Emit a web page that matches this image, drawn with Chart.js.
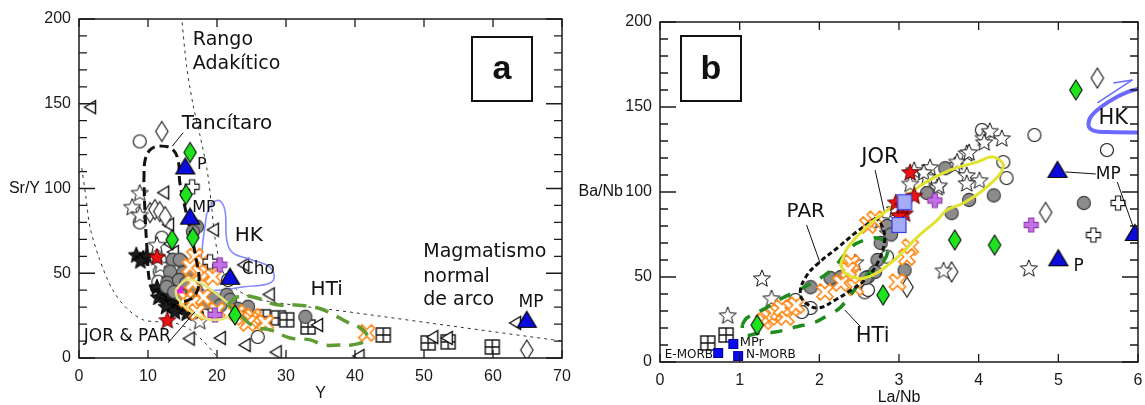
<!DOCTYPE html>
<html>
<head>
<meta charset="utf-8">
<script src="https://cdn.jsdelivr.net/npm/chart.js@4.4.1/dist/chart.umd.min.js"></script>
<style>
  html, body { margin: 0; padding: 0; background: #fff; }
  #wrap { position: relative; width: 1145px; height: 405px; overflow: hidden; background: #fff; }
  canvas { position: absolute; top: 0; }
  #cA { left: 0; }
  #cB { left: 572px; }
</style>
</head>
<body>
<div id="wrap">
  <canvas id="cA" width="572" height="405"></canvas>
  <canvas id="cB" width="573" height="405"></canvas>
</div>
<script>
// ---------- Panel a: Sr/Y vs Y ----------
const xTicksA = [0, 10, 20, 30, 40, 50, 60, 70];
const yTicksA = [0, 50, 100, 150, 200];
const yMarks = [0, 10, 20, 30, 40, 50, 60, 70, 80, 90, 100, 110, 120, 130, 140, 150, 160, 170, 180, 190, 200];

const openCircleA = [[8.8,127.8],[8.8,80],[12,71],[11.7,58],[11.7,51],[11.5,45],[13.8,42],[15.8,34],[21.6,46],[19.5,30],[25.9,12.4]];
const openDiamondA = [[12,133.7],[10.3,85.8],[11,87.6],[11.7,86.4],[12.5,83.4],[64.9,4.7]];
const openTriA = [[1.6,148],[12.2,97.6],[12.9,78.7],[13.6,62.5],[12.8,68],[19.4,75.7],[23.8,55],[27.5,37.5],[34.5,19.5],[15.9,11.5],[20.4,11.8],[24,7.7],[28.5,3.4],[40.5,1.2],[51.2,12.4],[53.3,11.8],[63.2,20.7]];
const openStarA = [[8.8,97.6],[7.7,89.3],[8.8,84.6],[11.3,66.9],[11.8,55],[13.2,46],[17.5,22]];
const blackStarA = [[8.3,61],[9.3,59],[9.8,60.5],[8.9,57.5],[11.3,42],[12,39.5],[11.5,36],[12.8,34],[13.2,37.3],[13.6,32.5],[14.2,30],[14.9,29.6],[15.6,26.6],[16.5,28.4],[15,33],[17.4,29.5],[12.6,30.5],[13.9,27.5]];
const redStarA = [[11.3,59.8],[12.8,22.5]];
const greenDiamondA = [[16.1,121.3],[15.5,96.4],[13.5,69.8],[16.5,71],[22.6,25.4]];
const blueTriA = [[15.4,113],[16.1,83.4],[21.9,47.9],[64.9,22.5]];
const openPlusA = [[16.4,101],[19,56.8]];
const violetPlusA = [[20.4,55],[19.7,25.4]];
const magentaA = [[14.6,40.2]];
const grayCircleA = [[17.1,77.5],[16.5,74.6],[13.6,58],[14.9,56.8],[14.6,58],[13.2,50.9],[15.1,50.3],[16.5,52],[12.8,44.4],[14.5,46],[15.5,44],[12.7,42],[13.8,39],[15.2,36.5],[16.4,37.3],[17,40],[18.5,32.5],[19.5,35],[21.4,37.3],[21.9,34.3],[20.5,31],[23,29],[24.5,30.2],[32.8,24.3]];
const orangeXA = [[16.8,59.8],[18,56],[16.1,53.8],[17.5,50.3],[18.6,50.3],[19.4,47.9],[16.5,44.4],[18,36],[15.5,35],[16.4,32.5],[17.1,27.2],[20,28],[22.9,26.6],[23.8,24.3],[25.2,24.3],[24.8,22.5],[24.5,20.7],[27,20.7],[41.7,14.8]];
const gridSquareA = [[26.7,24.3],[28.9,23.7],[30.1,22.5],[33.2,18.3],[44.1,13.6],[50.6,8.9],[53.5,9.5],[59.9,6.5]];

// outlined fields and boundary lines (Y, Sr/Y)
const tancitaroA = [[9.4,105],[9.6,117],[10.5,123.5],[12,125],[13.6,123],[14.4,116],[14.6,104],[15.3,90],[16.3,72],[17,58],[17.4,46],[16.8,37],[15,33],[13,33.5],[11,37.5],[10.2,46],[9.9,62],[9.6,82],[9.4,105]];
const hkA = [[18.5,85],[19.5,92],[20.5,92.5],[21.2,86],[21.4,70],[22.3,62],[25,58],[27.5,54],[28.3,48],[27.5,44],[24,42],[20,40],[17.7,41],[17.6,52],[18,70],[18.5,85]];
const yellowA = [[14,40],[15.5,46],[17.5,44.5],[20.5,36],[22.2,28.5],[21.2,23.5],[18.5,23],[16,28],[14.3,35],[14,40]];
const htiA = [[21.6,31.4],[22.9,36],[25.2,36],[28.7,31.4],[31,31.4],[34.5,29.6],[36.4,26.6],[38.8,21.3],[41.2,16.6],[41.7,10.7],[39.5,7.7],[37.8,7.7],[35.4,7.7],[33.5,10.7],[30.6,11.8],[27.7,16.6],[25.5,18.3],[23.3,25.4],[21.6,31.4]];
const adakiteLineA = [[14.85,202],[15.6,172],[16.5,150],[17.5,132],[18.6,110],[19.2,90],[19.6,74],[20.2,60],[21.2,48],[23,40],[26,34.5],[40,26.7],[55,18.3],[70,10]];
const arcLineA = [[0.4,112],[1,95],[1.6,77],[3,58],[4.9,40],[7,29],[9.3,22.5],[11.7,21.3],[14,20.5],[16,17],[18,10],[20,1],[20.2,0]];
const leaderTancA = [[13.5,124.9],[15.1,133]];
const leaderJorParA = [[12.9,8.9],[16.8,27.2]];

// ---------- Panel b: Ba/Nb vs La/Nb ----------
const xTicksB = [0, 1, 2, 3, 4, 5, 6];
const yTicksB = [0, 50, 100, 150, 200];

const gridSquareB = [[0.6,11.2],[0.83,15.9]];
const blueSquareB = [[0.73,5.3],[0.92,10.6],[0.98,3.5]];
const openStarB = [[0.85,27.6],[1.28,49.4],[1.4,37.6],[2.45,58.8],[2.77,83.5],[2.86,76],[2.95,90],[3.19,113],[3.35,109],[3.48,103],[3.14,105],[3.39,114.7],[3.7,115.9],[3.85,123],[3.73,118],[3.85,110],[4.01,107],[3.85,105.3],[3.31,111.8],[3.5,104],[4.06,132],[4.14,136],[4.29,131.8],[4.07,129.4],[3.88,123.5],[3.56,54],[4.63,55.3]];
const redStarB = [[3.14,111.8],[3.19,98],[2.96,94],[3.07,87.6],[3.0,86.5],[3.05,92]];
const lavSquareB = [[3.07,94],[3.0,80.6]];
const violetPlusB = [[3.45,95],[4.66,80.6]];
const openPlusB = [[5.75,93.5],[5.44,74.7]];
const blueTriB = [[4.99,113],[5.0,61],[5.96,75.9]];
const greenDiamondB = [[1.22,21.8],[2.8,39.4],[3.7,71.8],[4.2,68.8],[5.22,160]];
const openDiamondB = [[5.49,167],[4.84,88],[3.66,53],[3.1,44]];
const grayCircleB = [[5.32,93.5],[3.58,114],[3.35,99.4],[3.88,95.3],[4.19,98],[3.66,87.6],[3.07,54],[2.85,80],[2.9,75],[2.77,70],[2.73,60],[2.61,50],[2.17,48.2],[1.89,44],[2.14,49.4],[2.27,50],[2.58,49.4],[2.7,53]];
const openCircleB = [[4.7,133.5],[5.61,124.7],[4.31,117.6],[4.35,108.2],[4.04,136.5],[2.57,41],[1.89,31.8],[1.78,29.4],[1.7,36.5],[2.61,42.4],[2.85,62]];
const orangeXB = [[1.3,24],[1.37,26.5],[1.43,28.8],[1.49,29.4],[1.58,26.5],[1.53,31.8],[1.65,31.8],[1.71,33.5],[2.07,41.2],[2.27,46.5],[2.45,44],[2.39,57],[2.4,58.2],[2.36,54],[2.61,80.6],[2.7,84],[3.14,67.6],[3.1,61.8],[2.98,47]];

const parB = [[2.71,84.7],[2.45,75.9],[2.24,67.6],[1.99,58.2],[1.83,50],[1.76,40.6],[1.83,34.7],[1.99,31.8],[2.2,36.5],[2.4,42.4],[2.57,48.2],[2.73,58.2],[2.82,71.8],[2.77,81.8],[2.71,84.7]];
const yellowB = [[2.27,58.2],[2.36,67.6],[2.65,81.8],[2.98,93.5],[3.32,105.3],[3.64,112.9],[3.98,117.6],[4.19,120.6],[4.31,114.7],[4.1,102.9],[3.81,93.5],[3.6,89.4],[3.48,83.5],[3.23,73.5],[2.94,60],[2.57,49.4],[2.32,52.4],[2.27,58.2]];
const htiB = [[1.03,21.8],[1.09,25.9],[1.33,31.8],[1.49,36.5],[1.86,45.3],[2.15,54.1],[2.4,67.6],[2.57,71.8],[2.73,72.9],[2.86,68.8],[2.8,58.8],[2.57,50],[2.27,32.4],[2.11,27.6],[1.95,23.5],[1.7,20.6],[1.45,17.6],[1.24,17],[1.06,15.9],[1.03,21.8]];
const hkB = [[6.15,162],[5.88,159],[5.63,153],[5.42,145],[5.38,139],[5.45,136],[5.63,135.3],[6.15,135]];
const hkArrowB = [[5.49,152.4],[5.93,165.9]];
const hkArrowHeadB = [[5.69,164.1],[5.93,165.9]];
const leaderJorB = [[2.7,112.9],[2.82,87.6]];
const leaderParB = [[1.84,80.6],[2.01,58.2]];
const leaderHtiB = [[2.32,30.6],[2.52,20.6]];
const leaderMp1B = [[5.09,111.8],[5.47,110.6]];
const leaderMp2B = [[5.74,105.9],[5.94,79.4]];

// ---------- marker glyphs ----------
function glyph(w, h, draw) {
  const c = document.createElement('canvas');
  c.width = w; c.height = h;
  const g = c.getContext('2d');
  g.translate(w / 2, h / 2);
  draw(g);
  return c;
}
function shape(g, pts, fill, stroke, lw) {
  g.beginPath();
  pts.forEach((p, i) => i ? g.lineTo(p[0], p[1]) : g.moveTo(p[0], p[1]));
  g.closePath();
  if (fill) { g.fillStyle = fill; g.fill(); }
  if (stroke) { g.strokeStyle = stroke; g.lineWidth = lw; g.lineJoin = 'miter'; g.stroke(); }
}
function starPts(R, r) {
  const p = [];
  for (let i = 0; i < 10; i++) {
    const a = -Math.PI / 2 + i * Math.PI / 5, rad = i % 2 ? r : R;
    p.push([rad * Math.cos(a), rad * Math.sin(a) + R * 0.1]);
  }
  return p;
}
function crossPts(L, W) {
  return [[-W,-L],[W,-L],[W,-W],[L,-W],[L,W],[W,W],[W,L],[-W,L],[-W,W],[-L,W],[-L,-W],[-W,-W]];
}
function rot(pts, deg) {
  const a = deg * Math.PI / 180, c = Math.cos(a), s = Math.sin(a);
  return pts.map(([x, y]) => [x * c - y * s, x * s + y * c]);
}
function disc(fill, stroke, r) {
  return glyph(18, 18, g => { g.beginPath(); g.arc(0, 0, r, 0, Math.PI * 2); g.fillStyle = fill; g.fill(); g.strokeStyle = stroke; g.lineWidth = 1.1; g.stroke(); });
}
const G = {
  openCircle: disc('#ffffff', '#111', 6.5),
  grayCircle: disc('#8c8c8c', '#3a3a3a', 6.6),
  openDiamond: glyph(16, 24, g => shape(g, [[0,-10],[6.2,0],[0,10],[-6.2,0]], '#fff', '#111', 1.1)),
  greenDiamond: glyph(16, 24, g => shape(g, [[0,-10],[6.2,0],[0,10],[-6.2,0]], '#1ee41e', '#0a0a0a', 1.1)),
  openTri: glyph(16, 18, g => shape(g, [[-5.5,0],[5.5,-6.5],[5.5,6.5]], '#fff', '#111', 1.4)),
  blueTri: glyph(24, 22, g => shape(g, [[0,-8.5],[9.5,7.5],[-9.5,7.5]], '#0b0bdc', '#000', 1.2)),
  openStar: glyph(22, 22, g => shape(g, starPts(9, 3.9), '#fff', '#111', 1)),
  blackStar: glyph(22, 22, g => shape(g, starPts(8.5, 3.7), '#1c1c1c', '#000', 1)),
  redStar: glyph(22, 22, g => shape(g, starPts(9, 3.9), '#ee1111', '#500', 1)),
  orangeX: glyph(22, 22, g => shape(g, rot(crossPts(9, 2.4), 45), '#fff', '#ff8a1a', 1.6)),
  openPlus: glyph(18, 18, g => shape(g, crossPts(7, 2.6), '#fff', '#111', 1.1)),
  violetPlus: glyph(18, 18, g => shape(g, crossPts(7, 2.6), '#c56fe6', '#8a3aa8', 1.1)),
  gridSquare: glyph(18, 18, g => {
    g.fillStyle = '#fff'; g.fillRect(-7, -7, 14, 14);
    g.strokeStyle = '#111'; g.lineWidth = 1.4; g.strokeRect(-7, -7, 14, 14);
    g.beginPath(); g.moveTo(0, -7); g.lineTo(0, 7); g.moveTo(-7, 0); g.lineTo(7, 0); g.stroke();
  }),
  blueSquare: glyph(12, 12, g => { g.fillStyle = '#0a0aee'; g.fillRect(-4.5, -4.5, 9, 9); g.strokeStyle = '#0000a0'; g.lineWidth = 1; g.strokeRect(-4.5, -4.5, 9, 9); }),
  lavSquare: glyph(18, 18, g => { g.fillStyle = '#a4acf6'; g.fillRect(-7, -7.5, 14, 15); g.strokeStyle = '#3b3be0'; g.lineWidth = 1.2; g.strokeRect(-7, -7.5, 14, 15); }),
  magenta: glyph(10, 10, g => { g.fillStyle = '#e21ee2'; g.fillRect(-3.5, -3.5, 7, 7); })
};

// ---------- dataset helpers ----------
const pts = arr => arr.map(([x, y]) => ({ x, y }));
function marks(arr, img, order) {
  return { data: pts(arr), pointStyle: img, pointRadius: 6, pointHoverRadius: 6, showLine: false, order };
}
function curve(arr, color, width, dash, order, tension) {
  return {
    data: pts(arr), showLine: true, borderColor: color, borderWidth: width, borderDash: dash,
    pointRadius: 0, pointHoverRadius: 0, tension: tension === undefined ? 0.4 : tension,
    fill: false, order, borderCapStyle: 'butt', borderJoinStyle: 'round'
  };
}

// frame, inward tick marks, annotations and panel letter
function decor(cfg) {
  return {
    id: 'decor',
    afterDatasetsDraw(chart) {
      const { ctx, chartArea: a, scales: { x, y } } = chart;
      ctx.save();
      ctx.strokeStyle = '#1a1a1a';
      ctx.lineWidth = 1.5;
      ctx.strokeRect(a.left, a.top, a.right - a.left, a.bottom - a.top);
      ctx.beginPath();
      cfg.xMarks.forEach(v => {
        const px = x.getPixelForValue(v);
        ctx.moveTo(px, a.bottom); ctx.lineTo(px, a.bottom - 8);
        ctx.moveTo(px, a.top); ctx.lineTo(px, a.top + 8);
      });
      yMarks.forEach(v => {
        const py = y.getPixelForValue(v), len = v % 50 === 0 ? 16 : 8;
        ctx.moveTo(a.left, py); ctx.lineTo(a.left + len, py);
        ctx.moveTo(a.right, py); ctx.lineTo(a.right - len, py);
      });
      ctx.lineWidth = 1.3;
      ctx.stroke();

      ctx.fillStyle = '#111';
      ctx.textBaseline = 'middle';
      cfg.texts.forEach(t => {
        ctx.font = (t.weight || 'normal') + ' ' + t.size + 'px "DejaVu Sans", sans-serif';
        ctx.textAlign = t.align || 'left';
        ctx.fillText(t.text, x.getPixelForValue(t.x), y.getPixelForValue(t.y));
      });

      // axis titles
      ctx.font = '16px "Liberation Sans", Arial, sans-serif';
      ctx.textAlign = 'center';
      ctx.fillText(cfg.xTitle, (a.left + a.right) / 2, a.bottom + 36);
      ctx.textAlign = 'right';
      ctx.fillText(cfg.yTitle, a.left - cfg.yTitleGap, y.getPixelForValue(100));

      // panel letter
      const b = cfg.box;
      ctx.fillStyle = '#fff';
      ctx.fillRect(b.x, b.y, b.w, b.h);
      ctx.strokeStyle = '#111';
      ctx.lineWidth = 2;
      ctx.strokeRect(b.x, b.y, b.w, b.h);
      ctx.fillStyle = '#111';
      ctx.font = 'bold 34px "Liberation Sans", Arial, sans-serif';
      ctx.textAlign = 'center';
      ctx.fillText(cfg.letter, b.x + b.w / 2, b.y + b.h / 2 + 1);
      ctx.restore();
    }
  };
}

function scales(xMax, xTicks, yTicks, yWidth, xHeight) {
  return {
    x: {
      type: 'linear', min: 0, max: xMax,
      grid: { display: false, drawTicks: false }, border: { display: false },
      afterBuildTicks: ax => { ax.ticks = xTicks.map(v => ({ value: v })); },
      afterFit: s => { s.height = xHeight; s.paddingLeft = 0; s.paddingRight = 0; },
      ticks: { padding: 9, maxRotation: 0, autoSkip: false, color: '#1a1a1a', font: { size: 16, family: '"Liberation Sans", Arial, sans-serif' } }
    },
    y: {
      type: 'linear', min: 0, max: 200,
      grid: { display: false, drawTicks: false }, border: { display: false },
      afterBuildTicks: ax => { ax.ticks = yTicks.map(v => ({ value: v })); },
      afterFit: s => { s.width = yWidth; s.paddingTop = 0; s.paddingBottom = 0; },
      ticks: { padding: 8, autoSkip: false, color: '#1a1a1a', font: { size: 16, family: '"Liberation Sans", Arial, sans-serif' } }
    }
  };
}

const common = {
  responsive: false, animation: false, devicePixelRatio: 1, events: [],
  plugins: { legend: { display: false }, tooltip: { enabled: false } }
};

// ---------- chart a ----------
new Chart(document.getElementById('cA'), {
  type: 'scatter',
  data: {
    datasets: [
      curve(adakiteLineA, '#333', 1, [3, 4], 40, 0.3),
      curve(arcLineA, '#333', 1, [3, 4], 40, 0.3),
      marks(gridSquareA, G.gridSquare, 30),
      marks(openTriA, G.openTri, 29),
      marks(openDiamondA, G.openDiamond, 28),
      marks(openCircleA, G.openCircle, 27),
      marks(openStarA, G.openStar, 26),
      marks(blackStarA, G.blackStar, 25),
      curve(hkA, '#8888ff', 1.6, [], 24),
      marks(grayCircleA, G.grayCircle, 23),
      marks(orangeXA, G.orangeX, 22),
      marks(openPlusA, G.openPlus, 21),
      marks(violetPlusA, G.violetPlus, 20),
      marks(magentaA, G.magenta, 19),
      curve(yellowA, '#e4e47a', 2.5, [], 12),
      curve(htiA, '#5f9c34', 3.5, [14, 9], 11),
      curve(tancitaroA, '#111', 3, [9, 5], 10),
      curve(leaderTancA, '#111', 1, [], 10, 0),
      curve(leaderJorParA, '#111', 1, [], 10, 0),
      marks(redStarA, G.redStar, 4),
      marks(greenDiamondA, G.greenDiamond, 3),
      marks(blueTriA, G.blueTri, 2)
    ]
  },
  options: Object.assign({}, common, {
    layout: { padding: { top: 19, right: 10, left: 0, bottom: 0 } },
    scales: scales(70, xTicksA, yTicksA, 79, 47)
  }),
  plugins: [decor({
    xMarks: xTicksA, xTitle: 'Y', yTitle: 'Sr/Y', yTitleGap: 39, letter: 'a',
    box: { x: 472, y: 37, w: 60, h: 64 },
    texts: [
      { text: 'Rango', x: 16.5, y: 187.6, size: 19 },
      { text: 'Adakítico', x: 16.5, y: 173.5, size: 19 },
      { text: 'Tancítaro', x: 14.9, y: 137.9, size: 20 },
      { text: 'P', x: 17.1, y: 114.2, size: 16 },
      { text: 'MP', x: 16.4, y: 88.8, size: 16 },
      { text: 'HK', x: 24.6, y: 72.2, size: 20, align: 'center' },
      { text: 'Cho', x: 23.6, y: 52, size: 17 },
      { text: 'HTi', x: 35.9, y: 40.2, size: 20, align: 'center' },
      { text: 'Magmatismo', x: 49.9, y: 62.7, size: 19 },
      { text: 'normal', x: 49.9, y: 47.9, size: 19 },
      { text: 'de arco', x: 49.9, y: 34.3, size: 19 },
      { text: 'MP', x: 65.5, y: 32.5, size: 17, align: 'center' },
      { text: 'JOR & PAR', x: 0.7, y: 12.4, size: 17 }
    ]
  })]
});

// ---------- chart b ----------
new Chart(document.getElementById('cB'), {
  type: 'scatter',
  data: {
    datasets: [
      marks(gridSquareB, G.gridSquare, 30),
      marks(blueSquareB, G.blueSquare, 29),
      marks(openDiamondB, G.openDiamond, 28),
      marks(openCircleB, G.openCircle, 27),
      marks(openStarB, G.openStar, 26),
      marks(grayCircleB, G.grayCircle, 23),
      marks(orangeXB, G.orangeX, 22),
      marks(openPlusB, G.openPlus, 21),
      marks(violetPlusB, G.violetPlus, 20),
      curve(htiB, '#1f8c1f', 3.5, [12, 11], 12),
      curve(parB, '#111', 3, [5, 3], 11),
      curve(yellowB, '#e2e232', 3, [], 10),
      curve(hkB, '#6a6aff', 4, [], 10),
      curve(hkArrowB, '#6a6aff', 1.5, [], 10, 0),
      curve(hkArrowHeadB, '#6a6aff', 1.5, [], 10, 0),
      curve(leaderJorB, '#111', 1, [], 10, 0),
      curve(leaderParB, '#111', 1, [], 10, 0),
      curve(leaderHtiB, '#111', 1, [], 10, 0),
      curve(leaderMp1B, '#111', 1, [], 10, 0),
      curve(leaderMp2B, '#111', 1, [], 10, 0),
      marks(redStarB, G.redStar, 5),
      marks(lavSquareB, G.lavSquare, 4),
      marks(greenDiamondB, G.greenDiamond, 3),
      marks(blueTriB, G.blueTri, 2)
    ]
  },
  options: Object.assign({}, common, {
    layout: { padding: { top: 22, right: 2, left: 0, bottom: 0 } },
    scales: scales(6, xTicksB, yTicksB, 88, 43)
  }),
  plugins: [decor({
    xMarks: xTicksB, xTitle: 'La/Nb', yTitle: 'Ba/Nb', yTitleGap: 37, letter: 'b',
    box: { x: 109, y: 36, w: 60, h: 65 },
    texts: [
      { text: 'JOR', x: 2.76, y: 120, size: 21, align: 'center' },
      { text: 'PAR', x: 1.83, y: 88.2, size: 20, align: 'center' },
      { text: 'HTi', x: 2.67, y: 14.7, size: 21, align: 'center' },
      { text: 'HK', x: 5.69, y: 143.5, size: 21, align: 'center' },
      { text: 'MP', x: 5.47, y: 110, size: 17 },
      { text: 'P', x: 5.19, y: 55.9, size: 17 },
      { text: 'E-MORB', x: 0.06, y: 4.1, size: 12 },
      { text: 'MPr', x: 1.0, y: 11.2, size: 13 },
      { text: 'N-MORB', x: 1.08, y: 4.1, size: 12 }
    ]
  })]
});
</script>
</body>
</html>
